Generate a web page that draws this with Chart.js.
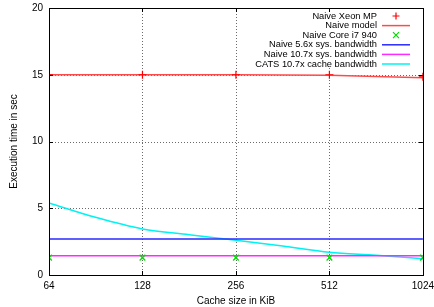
<!DOCTYPE html>
<html>
<head>
<meta charset="utf-8">
<script src="https://cdn.jsdelivr.net/npm/chart.js@4"></script>
<style>
  html, body { margin: 0; padding: 0; background: #fff; }
  #wrap { width: 434px; height: 307px; }
</style>
</head>
<body>
<div id="wrap"><canvas id="chart" width="434" height="307"></canvas></div>
<script>
// Data
const cacheSizes = [64, 128, 256, 512, 1024];
const xeonMP = [15, 15, 15, 15, 14.85];
const naiveModel = [15, 15, 15, 14.97, 14.78];
const coreI7 = [1.3, 1.3, 1.3, 1.3, 1.3];
const sys56 = [2.7, 2.7, 2.7, 2.7, 2.7];
const sys107 = [1.45, 1.45, 1.45, 1.45, 1.45];
const catsSizes = [64, 91, 128, 181, 256, 362, 512, 724, 1024];
const catsCache = [5.4, 4.3, 3.45, 3.02, 2.6, 2.17, 1.7, 1.48, 1.22];

const xTicks = [64, 128, 256, 512, 1024];
const yTicks = [0, 5, 10, 15, 20];

const FONT = 'Liberation Sans, Arial, sans-serif';

const toXY = (xs, ys) => xs.map((x, i) => ({ x: x, y: ys[i] }));

// Dotted gnuplot-like grid, drawn under the data
const gridPlugin = {
    id: 'dottedGrid',
    beforeDatasetsDraw(chart) {
        const ctx = chart.ctx;
        const area = chart.chartArea;
        const xs = chart.scales.x;
        const ys = chart.scales.y;
        ctx.save();
        ctx.strokeStyle = '#6a6a6a';
        ctx.lineWidth = 1;
        ctx.setLineDash([1, 2]);
        ctx.beginPath();
        xTicks.slice(1, -1).forEach(v => {
            const px = Math.round(xs.getPixelForValue(v)) + 0.5;
            ctx.moveTo(px, area.top);
            ctx.lineTo(px, area.bottom);
        });
        yTicks.slice(1, -1).forEach(v => {
            const py = Math.round(ys.getPixelForValue(v)) + 0.5;
            ctx.moveTo(area.left, py);
            ctx.lineTo(area.right, py);
        });
        ctx.stroke();
        ctx.restore();
    }
};

// Legend drawn gnuplot style: text right aligned, sample on the right
const keyPlugin = {
    id: 'gnuKey',
    afterDraw(chart) {
        const ctx = chart.ctx;
        const area = chart.chartArea;
        const xs = chart.scales.x;
        const ys = chart.scales.y;

        ctx.save();
        // inward tick marks on all sides
        ctx.strokeStyle = '#000';
        ctx.lineWidth = 1;
        ctx.beginPath();
        xTicks.forEach(v => {
            const px = Math.round(xs.getPixelForValue(v)) + 0.5;
            ctx.moveTo(px, area.bottom); ctx.lineTo(px, area.bottom - 4);
            ctx.moveTo(px, area.top); ctx.lineTo(px, area.top + 4);
        });
        yTicks.forEach(v => {
            const py = Math.round(ys.getPixelForValue(v)) + 0.5;
            ctx.moveTo(area.left, py); ctx.lineTo(area.left + 4, py);
            ctx.moveTo(area.right, py); ctx.lineTo(area.right - 4, py);
        });
        ctx.stroke();

        // key
        const textRight = 377;
        const sampleL = 382, sampleR = 410;
        const top0 = 16, step = 9.6;
        ctx.fillStyle = '#fff';
        ctx.fillRect(255, area.top + 5, area.right - 260, 62 - area.top);
        ctx.font = '9.3px ' + FONT;
        ctx.textAlign = 'right';
        ctx.textBaseline = 'middle';
        chart.data.datasets.forEach((ds, i) => {
            const y = top0 + i * step;
            ctx.fillStyle = '#000';
            ctx.fillText(ds.label, textRight, y);
            if (ds.showLine === false) {
                const cx = (sampleL + sampleR) / 2;
                ctx.strokeStyle = ds.borderColor;
                ctx.lineWidth = 1.2;
                ctx.beginPath();
                if (ds.pointStyle === 'cross') {
                    ctx.moveTo(cx - 3.5, y); ctx.lineTo(cx + 3.5, y);
                    ctx.moveTo(cx, y - 3.5); ctx.lineTo(cx, y + 3.5);
                } else {
                    ctx.moveTo(cx - 3, y - 3); ctx.lineTo(cx + 3, y + 3);
                    ctx.moveTo(cx - 3, y + 3); ctx.lineTo(cx + 3, y - 3);
                }
                ctx.stroke();
            } else {
                ctx.strokeStyle = ds.borderColor;
                ctx.lineWidth = ds.borderWidth;
                ctx.beginPath();
                ctx.moveTo(sampleL, y);
                ctx.lineTo(sampleR, y);
                ctx.stroke();
            }
        });

        // plot border
        ctx.strokeStyle = '#000';
        ctx.lineWidth = 1;
        ctx.strokeRect(Math.round(area.left) + 0.5, Math.round(area.top) + 0.5,
            Math.round(area.right - area.left), Math.round(area.bottom - area.top));
        ctx.restore();
    }
};

const ctx = document.getElementById('chart').getContext('2d');
new Chart(ctx, {
    type: 'line',
    data: {
        datasets: [
            {
                label: 'Naive Xeon MP',
                data: toXY(cacheSizes, xeonMP),
                showLine: false,
                borderColor: '#ff0000',
                backgroundColor: '#ff0000',
                pointStyle: 'cross',
                pointRadius: 4,
                pointBorderWidth: 1.2
            },
            {
                label: 'Naive model',
                data: toXY(cacheSizes, naiveModel),
                borderColor: '#ff4a4a',
                borderWidth: 1.5,
                pointRadius: 0,
                tension: 0
            },
            {
                label: 'Naive Core i7 940',
                data: toXY(cacheSizes, coreI7),
                showLine: false,
                borderColor: '#00dd00',
                backgroundColor: '#00dd00',
                pointStyle: 'crossRot',
                pointRadius: 4,
                pointBorderWidth: 1.3
            },
            {
                label: 'Naive 5.6x sys. bandwidth',
                data: toXY(cacheSizes, sys56),
                borderColor: '#2a2aff',
                borderWidth: 1.5,
                pointRadius: 0
            },
            {
                label: 'Naive 10.7x sys. bandwidth',
                data: toXY(cacheSizes, sys107),
                borderColor: '#ff2aff',
                borderWidth: 1.5,
                pointRadius: 0
            },
            {
                label: 'CATS 10.7x cache bandwidth',
                data: toXY(catsSizes, catsCache),
                borderColor: '#00f2f2',
                borderWidth: 1.5,
                pointRadius: 0,
                cubicInterpolationMode: 'monotone'
            }
        ]
    },
    options: {
        responsive: false,
        animation: false,
        layout: { padding: 0 },
        plugins: {
            legend: { display: false },
            tooltip: { enabled: false }
        },
        scales: {
            x: {
                type: 'logarithmic',
                min: 64,
                max: 1024,
                afterBuildTicks: scale => { scale.ticks = xTicks.map(v => ({ value: v })); },
                afterFit: scale => { scale.height = 32; },
                border: { display: false },
                grid: { color: 'transparent', drawTicks: true, tickLength: 5 },
                ticks: {
                    padding: 0,
                    maxRotation: 0,
                    autoSkip: false,
                    color: '#000',
                    font: { family: FONT, size: 10 },
                    callback: v => String(v)
                },
                title: {
                    display: true,
                    text: 'Cache size in KiB',
                    color: '#000',
                    font: { family: FONT, size: 10 },
                    padding: { top: 0, bottom: 0 }
                }
            },
            y: {
                min: 0,
                max: 20,
                afterBuildTicks: scale => { scale.ticks = yTicks.map(v => ({ value: v })); },
                afterFit: scale => { scale.width = 49; },
                border: { display: false },
                grid: { color: 'transparent', drawTicks: true, tickLength: 4 },
                ticks: {
                    padding: 2,
                    color: '#000',
                    font: { family: FONT, size: 10 }
                },
                title: {
                    display: true,
                    text: 'Execution time in sec',
                    color: '#000',
                    font: { family: FONT, size: 10 },
                    padding: { top: 8, bottom: 0 }
                }
            }
        }
    },
    plugins: [gridPlugin, keyPlugin]
});
</script>
</body>
</html>
